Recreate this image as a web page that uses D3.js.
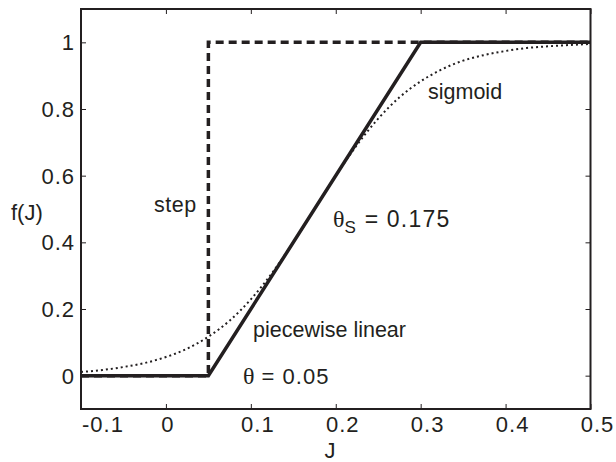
<!DOCTYPE html>
<html><head><meta charset="utf-8">
<script src="https://cdn.jsdelivr.net/npm/d3@7"></script>
<style>body{margin:0;background:#fff}text{font-family:"Liberation Sans",Arial,sans-serif;fill:#231f20}</style>
</head><body>
<svg id="c" width="616" height="462"></svg>
<script>
const xTicks=[-0.1,0,0.1,0.2,0.3,0.4,0.5];
const yTicks=[0,0.2,0.4,0.6,0.8,1];
const stepJ=[-0.1,0.05,0.05,0.5];
const stepF=[0,0,1,1];
const pwJ=[-0.1,0.05,0.3,0.5];
const pwF=[0,0,1,1];
const sigJ=[-0.1,-0.075,-0.05,-0.025,0,0.025,0.05,0.075,0.1,0.125,0.15,0.175,0.2,0.225,0.25,0.275,0.3,0.325,0.35,0.375,0.4,0.425,0.45,0.475,0.5];
const sigF=[0.011,0.017,0.026,0.038,0.056,0.081,0.117,0.165,0.229,0.308,0.400,0.500,0.600,0.692,0.771,0.835,0.883,0.919,0.945,0.962,0.974,0.983,0.988,0.992,0.995];

const L=81,R=590.5,T=9,B=409;
const svg=d3.select("#c");
const x=d3.scaleLinear().domain([-0.1,0.5]).range([L,R]);
const y=d3.scaleLinear().domain([-0.1,1.1]).range([B,T]);
const ink="#231f20";
const line=d3.line().x(d=>x(d[0])).y(d=>y(d[1]));

// sigmoid dotted
svg.append("path").datum(d3.zip(sigJ,sigF))
 .attr("d",d3.line().x(d=>x(d[0])).y(d=>y(d[1])).curve(d3.curveMonotoneX))
 .attr("fill","none").attr("stroke",ink).attr("stroke-width",2).attr("stroke-dasharray","2,3");
// step dashed
svg.append("path").datum(d3.zip(stepJ,stepF)).attr("d",line)
 .attr("fill","none").attr("stroke",ink).attr("stroke-width",3.5).attr("stroke-dasharray","8,5");
// piecewise solid
svg.append("path").datum(d3.zip(pwJ,pwF)).attr("d",line)
 .attr("fill","none").attr("stroke",ink).attr("stroke-width",3.5).attr("stroke-linejoin","miter");

// axes
const gx=svg.append("g").attr("transform",`translate(0,${B})`)
 .call(d3.axisBottom(x).tickValues(xTicks).tickSize(-5).tickPadding(0).tickFormat(()=>""));
const gxt=svg.append("g").attr("transform",`translate(0,${T})`)
 .call(d3.axisTop(x).tickValues(xTicks).tickSize(-5).tickFormat(()=>""));
const gy=svg.append("g").attr("transform",`translate(${L},0)`)
 .call(d3.axisLeft(y).tickValues(yTicks).tickSize(-5).tickFormat(()=>""));
const gyr=svg.append("g").attr("transform",`translate(${R},0)`)
 .call(d3.axisRight(y).tickValues(yTicks).tickSize(-5).tickFormat(()=>""));
[gx,gxt,gy,gyr].forEach(g=>{g.select(".domain").remove();g.selectAll("line").attr("stroke",ink).attr("stroke-width",1);});
svg.append("rect").attr("x",L).attr("y",T).attr("width",R-L).attr("height",B-T)
 .attr("fill","none").attr("stroke",ink).attr("stroke-width",2);

const fs=21.5, ns=22, ls=1;
svg.selectAll(".xl").data(xTicks).enter().append("text")
 .attr("x",d=>d===-0.1?x(d)+1:x(d)+(d===0?2:7))
 .attr("y",432).attr("text-anchor",d=>d===-0.1?"start":"middle")
 .attr("font-size",ns).attr("letter-spacing",ls).text(d=>String(d));
svg.selectAll(".yl").data(yTicks).enter().append("text")
 .attr("x",75).attr("y",d=>y(d)).attr("dy","0.36em").attr("text-anchor","end")
 .attr("font-size",ns).attr("letter-spacing",ls).text(d=>String(d));

svg.append("text").attr("x",330).attr("y",458).attr("text-anchor","middle").attr("font-size",ns).text("J");
svg.append("text").attr("x",11).attr("y",220).attr("font-size",ns).text("f(J)");

svg.append("text").attr("x",428).attr("y",99).attr("font-size",fs).text("sigmoid");
svg.append("text").attr("x",154).attr("y",212).attr("font-size",fs).attr("letter-spacing",0.5).text("step");
svg.append("text").attr("x",253).attr("y",337).attr("font-size",fs).text("piecewise linear");
const t1=svg.append("text").attr("x",333).attr("y",227).attr("font-size",23).attr("letter-spacing",1.2);
t1.append("tspan").style("font-family","Liberation Serif").attr("font-size",24).attr("letter-spacing",0).text("θ");
t1.append("tspan").attr("dy",6).attr("font-size",17).text("S");
t1.append("tspan").attr("dy",-6).text(" = 0.175");
const t2=svg.append("text").attr("x",243).attr("y",384).attr("font-size",ns).attr("letter-spacing",ls);
t2.append("tspan").style("font-family","Liberation Serif").attr("font-size",24).attr("letter-spacing",0).text("θ");
t2.append("tspan").text(" = 0.05");
</script>
</body></html>
